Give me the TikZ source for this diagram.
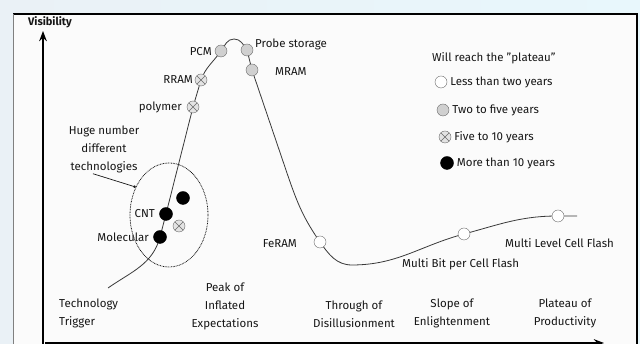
\documentclass[tikz,border=0pt]{standalone}
\usepackage{fontspec}
\setmainfont{Fira Sans}
\usetikzlibrary{arrows.meta,positioning,backgrounds,shapes.geometric}
\definecolor{ink}{RGB}{22,22,22}
\definecolor{dotgray}{RGB}{208,208,208}
\definecolor{rimgray}{RGB}{105,105,105}
\definecolor{bgblue}{RGB}{234,241,246}
\definecolor{bgcyan}{RGB}{232,247,252}

\begin{document}
\begin{tikzpicture}[x=1pt, y=1pt, >=Stealth,
  lbl/.style={font=\fontsize{11.5}{18}\selectfont, text=ink, inner sep=1pt},
  dot/.style={circle, draw=rimgray, inner sep=0pt, minimum size=12pt},
  lesstwo/.style={dot, fill=white},
  twofive/.style={dot, fill=dotgray},
  fiveten/.style={dot, fill=dotgray!60, path picture={\draw[rimgray] (path picture bounding box.north west) -- (path picture bounding box.south east) (path picture bounding box.north east) -- (path picture bounding box.south west);}},
  moreten/.style={dot, draw=black, fill=black, minimum size=13pt},
  curve/.style={draw=ink!85, line width=0.8pt},
  axis/.style={->, line width=1.6pt}]
  \useasboundingbox (0,0) rectangle (640,344);
  \begin{scope}[on background layer]
    \fill[left color=bgblue, right color=bgcyan] (0,0) rectangle (640,344);
    \fill[white!97!gray] (13,-2) rectangle (637,330);
  \end{scope}
  \draw[black, line width=1.5pt] (13,330) -- (637,330) -- (637,-2);
  \draw[gray, line width=0.7pt] (13,330) -- (13,-2);

  \coordinate (yorig) at (43,-2);
  \coordinate (ytip) at (43,313);
  \coordinate (xorig) at (45,1);
  \coordinate (xtip) at (604,1);
  \draw[axis] (yorig) -- (ytip);
  \draw[axis] (xorig) -- (xtip);
  \node[lbl, font=\fontsize{11}{13}\selectfont\bfseries] (vis) at (50,322) {Visibility};

  \node[moreten] (mol) at (160,107) {};
  \node[moreten] (cnt) at (166,130) {};
  \node[moreten] (blk) at (183,146) {};
  \node[fiveten] (xdot) at (179,118) {};
  \node[fiveten] (poly) at (193,237) {};
  \node[fiveten] (rram) at (201,264) {};
  \node[twofive] (pcm) at (221,293) {};
  \node[twofive] (probe) at (247,294) {};
  \node[twofive] (mram) at (252,274) {};
  \node[lesstwo] (feram) at (320,102) {};
  \node[lesstwo] (mbit) at (464,110) {};
  \node[lesstwo] (mlev) at (558,128) {};
  \coordinate (trig) at (108,56);
  \coordinate (peak) at (234,305);
  \coordinate (fall) at (288,168);
  \coordinate (trough) at (352,79);
  \coordinate (tail) at (577,128);
  \begin{scope}[on background layer]
    \draw[curve] (trig) to[out=35,in=-105] (mol.center) -- (cnt.center) -- (poly.center) -- (rram.center)
      to[out=70,in=-125] (pcm.center) to[out=55,in=180] (peak) to[out=0,in=125] (probe.center)
      to[out=-75,in=105] (mram.center) -- (fall) to[out=-71,in=125] (feram.center)
      to[out=-55,in=180] (trough) to[out=0,in=-165] (mbit.center) to[out=15,in=180] (mlev.center) -- (tail);
  \end{scope}

  \node[ellipse, draw=ink, dash pattern=on 0.8pt off 0.8pt, line width=0.8pt, minimum width=78pt, minimum height=104pt] (cloud) at (169,129) {};
  \node[lbl, align=center] (huge) at (104,195) {Huge number\\different\\technologies};
  \draw[ink, line width=0.7pt, -{Circle[length=2.5pt]}] ([xshift=-11pt]huge.south) -- (cloud.140);

  \node[lbl, anchor=east] (pcmtxt) at (213,292) {PCM};
  \node[lbl, anchor=west] (probetxt) at (254,300) {Probe storage};
  \node[lbl, anchor=west] (mramtxt) at (274,272) {MRAM};
  \node[lbl, anchor=east] (rramtxt) at (194,264) {RRAM};
  \node[lbl, anchor=east] (polytxt) at (183,237) {polymer};
  \node[lbl, anchor=east] (cnttxt) at (156,130) {CNT};
  \node[lbl, anchor=east] (moltxt) at (150,107) {Molecular};
  \node[lbl, anchor=east] (feramtxt) at (298,100) {FeRAM};
  \node[lbl, anchor=west] (mbittxt) at (401,80) {Multi Bit per Cell Flash};
  \node[lbl, anchor=west] (mlevtxt) at (504,101) {Multi Level Cell Flash};

  \node[lbl, anchor=west] (keyhead) at (431,286) {Will reach the \symbol{34}plateau\symbol{34}};
  \foreach \st/\txt/\yy [count=\i] in {lesstwo/Less than two years/262, twofive/Two to five years/234, fiveten/Five to 10 years/207, moreten/More than 10 years/181} {
    \node[\st] (key\i) at (439+\i*2, \yy) {};
    \node[lbl, right=2pt of key\i] (keytxt\i) {\txt};
  }

  \node[lbl, align=left, anchor=west] (ph1) at (58,31) {Technology\\Trigger};
  \node[lbl, align=center] (ph2) at (225,38) {Peak of\\Inflated\\Expectations};
  \node[lbl, align=center] (ph3) at (354,30) {Through of\\Disillusionment};
  \node[lbl, align=center] (ph4) at (452,31) {Slope of\\Enlightenment};
  \node[lbl, align=center] (ph5) at (565,31) {Plateau of\\Productivity};
\end{tikzpicture}
\end{document}
